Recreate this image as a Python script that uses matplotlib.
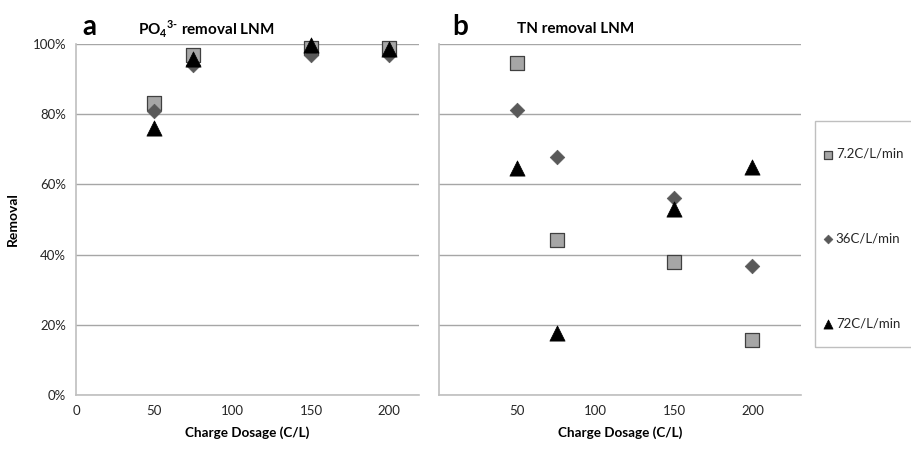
import matplotlib
matplotlib.use("Agg")
import matplotlib.pyplot as plt
from matplotlib.patches import Rectangle
from matplotlib.ticker import PercentFormatter

plt.rcParams["font.family"] = ["Lato", "DejaVu Sans"]
plt.rcParams["mathtext.fontset"] = "custom"
plt.rcParams["mathtext.rm"] = "Lato:bold"
plt.rcParams["mathtext.bf"] = "Lato:bold"

# charge dosage (C/L)
dosage = [50, 75, 150, 200]

# PO4 removal (%) per current density
po4_72 = [83.2, 97.0, 99.0, 98.8]
po4_36 = [81.0, 94.0, 97.0, 97.0]
po4_72hi = [76.0, 95.7, 99.7, 98.5]

# TN removal (%) per current density
tn_72 = [94.5, 44.2, 38.0, 15.7]
tn_36 = [81.2, 67.8, 56.0, 36.8]
tn_72hi = [64.7, 17.7, 53.0, 65.0]

labels = ["7.2C/L/min", "36C/L/min", "72C/L/min"]

grid_c = "#A6A6A6"
spine_c = "#BFBFBF"
text_c = "#262626"

styles = [
    dict(marker="s", s=110, facecolor="#A6A6A6", edgecolor="#404040", linewidth=0.9),
    dict(marker="D", s=55, facecolor="#595959", edgecolor="#595959", linewidth=0.5),
    dict(marker="^", s=120, facecolor="#000000", edgecolor="#000000", linewidth=0.5),
]

fig = plt.figure(figsize=(9.11, 4.5), dpi=100)
ax_a = fig.add_axes([76 / 911, 1 - 395 / 450, (419 - 76) / 911, 351 / 450])
ax_b = fig.add_axes([439 / 911, 1 - 395 / 450, (801 - 439) / 911, 351 / 450])


def style_axis(ax, xmax, xticks):
    ax.set_xlim(0, xmax)
    ax.set_ylim(0, 100)
    ax.set_yticks([0, 20, 40, 60, 80, 100])
    ax.set_xticks(xticks)
    ax.yaxis.grid(True, color=grid_c, linewidth=1.0)
    ax.set_axisbelow(True)
    for side in ["top", "right"]:
        ax.spines[side].set_visible(False)
    for side in ["left", "bottom"]:
        ax.spines[side].set_color(spine_c)
        ax.spines[side].set_linewidth(1.2)
    ax.tick_params(length=0, labelsize=9.5, colors=text_c, pad=7)
    ax.set_xlabel("Charge Dosage (C/L)", fontsize=9.7, fontweight="bold", labelpad=7)


style_axis(ax_a, 219, [0, 50, 100, 150, 200])
ax_a.yaxis.set_major_formatter(PercentFormatter(decimals=0))
ax_a.set_ylabel("Removal", fontsize=10, fontweight="bold", labelpad=10)

style_axis(ax_b, 231, [50, 100, 150, 200])
ax_b.set_yticklabels([])

handles = []
for ys, st in zip([po4_72, po4_36, po4_72hi], styles):
    ax_a.scatter(dosage, ys, clip_on=False, zorder=3, **st)
for ys, st in zip([tn_72, tn_36, tn_72hi], styles):
    h = ax_b.scatter(dosage, ys, clip_on=False, zorder=3, **st)
    handles.append(h)

fig.text(82 / 911, 1 - 27 / 450, "a", fontsize=20, fontweight="bold", va="center")
fig.text(452 / 911, 1 - 27 / 450, "b", fontsize=20, fontweight="bold", va="center")
fig.text(138 / 911, 1 - 29 / 450, r"PO$_4$$^{3\text{-}}$ removal LNM", fontsize=11,
         fontweight="bold", va="center")
fig.text(517 / 911, 1 - 29 / 450, "TN removal LNM", fontsize=11,
         fontweight="bold", va="center")

# legend box drawn separately so the entries can sit lower inside it
fig.patches.append(Rectangle((815 / 911, 1 - 347 / 450), 100 / 911, 226 / 450,
                             transform=fig.transFigure, facecolor="none",
                             edgecolor=spine_c, linewidth=1.0))
leg = fig.legend(handles, labels, loc="upper left",
                 bbox_to_anchor=(824 / 911, 1 - 148 / 450),
                 fontsize=9.5, frameon=False, labelspacing=5.5,
                 handlelength=0.6, handletextpad=0.3, borderpad=0,
                 borderaxespad=0, markerscale=0.6)
for t in leg.get_texts():
    t.set_color(text_c)

fig.savefig("out.png", dpi=100)
